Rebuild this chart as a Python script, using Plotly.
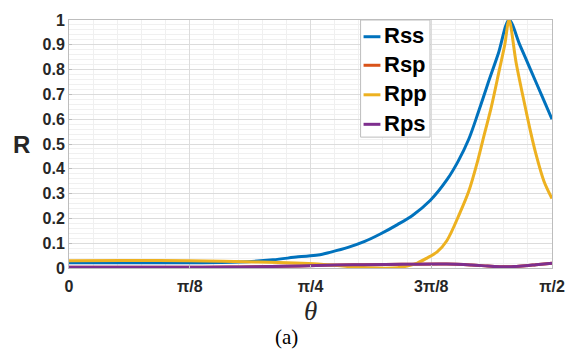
import plotly.graph_objects as go

# ---- data (theta in degrees) ----
names = ["Rss", "Rsp", "Rpp", "Rps"]
colors = ["#0072BD", "#D95319", "#EDB120", "#7E2F8E"]

rss_theta = [0, 10, 22.5, 31.6, 38, 42.7, 46.4, 48.8, 52, 55.1, 58, 61.2, 64, 67.3, 70.4, 72.5, 74.5, 76.3, 78.0, 80.0, 82.0, 84.0, 86.0, 88.0, 90]
rss_vals  = [0.021, 0.021, 0.021, 0.024, 0.033, 0.045, 0.052, 0.064, 0.083, 0.107, 0.137, 0.175, 0.212, 0.272, 0.355, 0.43, 0.52, 0.63, 0.74, 0.865, 1.0, 0.9, 0.8, 0.7, 0.60]

rpp_theta = [0, 10, 22.5, 35.3, 46.4, 50, 55.6, 61.2, 63, 64.9, 66.7, 68.6, 70.4, 72.8, 74.5, 76.0, 77.4, 78.7, 80.2, 81.2, 82.0, 83.3, 85.0, 86.0, 87.0, 88.5, 90]
rpp_vals  = [0.029, 0.030, 0.029, 0.024, 0.016, 0.01, 0.001, 0.001, 0.008, 0.02, 0.04, 0.065, 0.11, 0.22, 0.31, 0.42, 0.54, 0.65, 0.80, 0.9, 1.0, 0.83, 0.65, 0.55, 0.46, 0.35, 0.28]

rps_theta = [0, 10, 22.5, 30, 35, 40, 46, 50, 55, 62, 70.4, 75, 78, 80.6, 83, 85, 87, 90]
rps_vals  = [0.003, 0.003, 0.003, 0.004, 0.005, 0.007, 0.010, 0.012, 0.013, 0.015, 0.016, 0.012, 0.008, 0.005, 0.006, 0.009, 0.013, 0.019]

rsp_theta = rps_theta
rsp_vals = rps_vals

tick_vals = [0, 22.5, 45, 67.5, 90]
tick_text = ["0", "\u03c0/8", "\u03c0/4", "3\u03c0/8", "\u03c0/2"]
ytick_vals = [0, 0.1, 0.2, 0.3, 0.4, 0.5, 0.6, 0.7, 0.8, 0.9, 1]
ytick_text = ["0", "0.1", "0.2", "0.3", "0.4", "0.5", "0.6", "0.7", "0.8", "0.9", "1"]

series = [(rss_theta, rss_vals), (rsp_theta, rsp_vals), (rpp_theta, rpp_vals), (rps_theta, rps_vals)]

fig = go.Figure()
for (tx, ty), nm, c in zip(series, names, colors):
    fig.add_trace(go.Scatter(x=tx, y=ty, mode="lines", name=nm, showlegend=False, hoverinfo="skip",
                             line=dict(color=c, width=3, shape="spline", smoothing=0.9)))

W, H = 577, 350
L, R, T, B = 69, 21, 16, 82
pw, ph = W - L - R, H - T - B

def px(x):
    return (x - L) / pw

def py(y):
    return (H - B - y) / ph

font_tick = dict(family="Liberation Sans, Arial, sans-serif", size=16, color="#262626", weight="bold")

fig.update_layout(
    width=W, height=H,
    margin=dict(l=L, r=R, t=T, b=B),
    paper_bgcolor="white", plot_bgcolor="white",
    xaxis=dict(range=[0, 90], tickvals=tick_vals, ticktext=tick_text, tickfont=font_tick,
               ticklabelstandoff=4,
               showgrid=True, gridcolor="#dcdcdc", gridwidth=1,
               minor=dict(dtick=4.5, showgrid=True, gridcolor="#f0f0f0", gridwidth=1),
               showline=True, linecolor="#bdbdbd", mirror=True, linewidth=1,
               ticks="inside", ticklen=3, tickcolor="#bdbdbd", zeroline=False),
    yaxis=dict(range=[0, 1], tickvals=ytick_vals, ticktext=ytick_text, tickfont=font_tick,
               showgrid=True, gridcolor="#dcdcdc", gridwidth=1,
               minor=dict(dtick=0.02, showgrid=True, gridcolor="#f0f0f0", gridwidth=1),
               showline=True, linecolor="#bdbdbd", mirror=True, linewidth=1,
               ticks="inside", ticklen=3, tickcolor="#bdbdbd", zeroline=False),
)

annotations = [
    dict(text="R", x=px(21), y=py(143), xref="paper", yref="paper", showarrow=False,
         xanchor="center", yanchor="middle",
         font=dict(family="Liberation Sans, Arial", size=24, color="#262626", weight="bold")),
    dict(text="\u03b8", x=px(312), y=py(312), xref="paper", yref="paper", showarrow=False,
         xanchor="center", yanchor="middle",
         font=dict(family="Liberation Serif, Times New Roman, serif", size=27, color="#262626", style="italic")),
    dict(text="(a)", x=px(288), y=py(338), xref="paper", yref="paper", showarrow=False,
         xanchor="center", yanchor="middle",
         font=dict(family="Liberation Serif, Times New Roman, serif", size=21, color="black")),
]

shapes = [dict(type="rect", xref="paper", yref="paper", x0=px(363), x1=px(433), y0=py(135), y1=py(16),
               line=dict(color="#bdbdbd", width=1), fillcolor="white", layer="above")]
entry_y = [33, 62, 92, 122]
for nm, c, ey in zip(names, colors, entry_y):
    shapes.append(dict(type="line", xref="paper", yref="paper", x0=px(366), x1=px(383), y0=py(ey), y1=py(ey),
                       line=dict(color=c, width=3), layer="above"))
    annotations.append(dict(text=nm, x=px(385), y=py(ey - 1), xref="paper", yref="paper",
                            xanchor="left", yanchor="middle", showarrow=False,
                            font=dict(family="Liberation Sans, Arial", size=22, color="black", weight="bold")))

fig.update_layout(annotations=annotations, shapes=shapes)
fig.write_html("out.html", config={"displayModeBar": False},
               post_script="document.body.style.margin='0';document.body.style.overflow='hidden';")
